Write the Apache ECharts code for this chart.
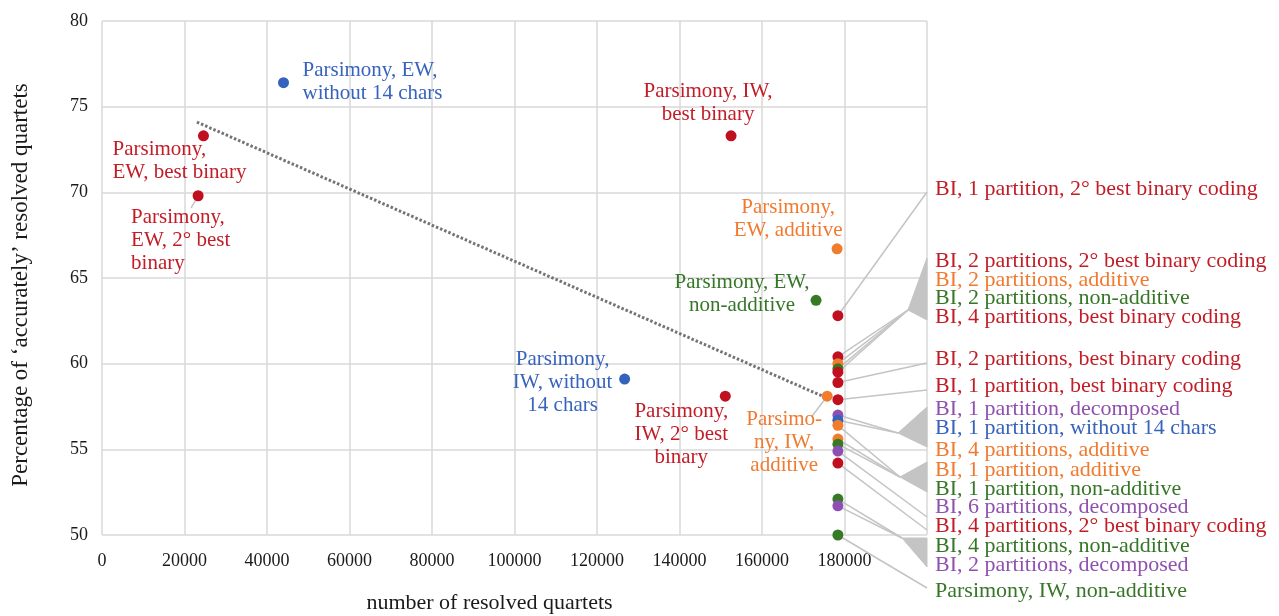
<!DOCTYPE html>
<html>
<head>
<meta charset="utf-8">
<script src="https://cdn.jsdelivr.net/npm/echarts@6/dist/echarts.min.js"></script>
<style>
  html, body { margin: 0; padding: 0; background: #fff; }
  #chart { width: 1279px; height: 616px; }
</style>
</head>
<body>
<div id="chart"></div>
<script>
// Methods compared (label text as drawn)
const labels = [
  'Parsimony, EW,\nwithout 14 chars',
  'Parsimony,\nEW, best binary',
  'Parsimony,\nEW, 2° best\nbinary',
  'Parsimony, IW,\nbest binary',
  'Parsimony,\nEW, additive',
  'Parsimony, EW,\nnon-additive',
  'Parsimony,\nIW, without\n14 chars',
  'Parsimony,\nIW, 2° best\nbinary',
  'Parsimo-\nny, IW,\nadditive',
  'BI, 1 partition, 2° best binary coding',
  'BI, 2 partitions, 2° best binary coding',
  'BI, 2 partitions, additive',
  'BI, 2 partitions, non-additive',
  'BI, 4 partitions, best binary coding',
  'BI, 2 partitions, best binary coding',
  'BI, 1 partition, best binary coding',
  'BI, 1 partition, decomposed',
  'BI, 1 partition, without 14 chars',
  'BI, 4 partitions, additive',
  'BI, 1 partition, additive',
  'BI, 1 partition, non-additive',
  'BI, 6 partitions, decomposed',
  'BI, 4 partitions, 2° best binary coding',
  'BI, 4 partitions, non-additive',
  'BI, 2 partitions, decomposed',
  'Parsimony, IW, non-additive'
];

// Number of resolved quartets
const quartets = [
  44000, 24600, 23300, 152500, 178200, 173100, 126700, 151100, 175800,
  178400, 178400, 178400, 178400, 178400, 178400, 178400, 178400,
  178400, 178400, 178400, 178400, 178400, 178400, 178400, 178400, 178400
];

// Percentage of 'accurately' resolved quartets
const accuracy = [
  76.4, 73.3, 69.8, 73.3, 66.7, 63.7, 59.1, 58.1, 58.1,
  62.8, 60.4, 60.0, 59.7, 59.5, 58.9, 57.9, 57.0,
  56.7, 56.4, 55.6, 55.3, 54.9, 54.2, 52.1, 51.7, 50.0
];

// Character coding of each analysis
const coding = [
  'without', 'binary', 'binary', 'binary', 'additive', 'non-additive', 'without', 'binary', 'additive',
  'binary', 'binary', 'additive', 'non-additive', 'binary', 'binary', 'binary', 'decomposed',
  'without', 'additive', 'additive', 'non-additive', 'decomposed', 'binary', 'non-additive', 'decomposed', 'non-additive'
];

// Linear trend (end points)
const trendX = [23000, 174700];
const trendY = [74.1, 58.1];

// Axis ticks
const xTicks = [0, 20000, 40000, 60000, 80000, 100000, 120000, 140000, 160000, 180000];
const yTicks = [50, 55, 60, 65, 70, 75, 80];

// ---- presentation ----
const markerColor = {
  'binary': '#c00f1e',
  'additive': '#f07c2c',
  'non-additive': '#367a26',
  'decomposed': '#8e4fb5',
  'without': '#3463bd'
};
const textColor = {
  'binary': '#c21d27',
  'additive': '#f07a30',
  'non-additive': '#357627',
  'decomposed': '#8f50b0',
  'without': '#3863bd'
};

const FONT = 'Liberation Serif';
const LEAD = '#c4c4c4';

// labels placed next to their point: offset of the text block centre from the point
const nearby = {
  0: { dx: 19, dy: -1, align: 'left' },
  1: { dx: -91, dy: 25, align: 'left' },
  2: { dx: -67, dy: 45, align: 'left', lead: [-7, 12] },
  3: { dx: -23, dy: -33, align: 'center' },
  4: { dx: -49, dy: -30, align: 'center' },
  5: { dx: -74, dy: -6, align: 'center' },
  6: { dx: -62, dy: 3, align: 'center' },
  7: { dx: -44, dy: 38, align: 'center' },
  8: { dx: -43, dy: 46, align: 'center', lead: [-16, 21] }
};

// labels listed in the right-hand column, with where their leader line ends
const COL_X = 935, EDGE_X = 927;
const column = {
  9:  { y: 189, to: [EDGE_X, 192] },
  10: { y: 261, to: [908, 310] },
  11: { y: 280, to: [908, 310] },
  12: { y: 298, to: [908, 310] },
  13: { y: 317, to: [908, 310] },
  14: { y: 359, to: [EDGE_X, 363] },
  15: { y: 386, to: [EDGE_X, 390] },
  16: { y: 409, to: [898, 433] },
  17: { y: 428, to: [898, 433] },
  18: { y: 450, to: [900, 477] },
  19: { y: 470, to: [900, 477] },
  20: { y: 489, to: [900, 477] },
  21: { y: 507, to: [EDGE_X, 517] },
  22: { y: 526, to: [EDGE_X, 530] },
  23: { y: 546, to: [902, 538] },
  24: { y: 565, to: [902, 538] },
  25: { y: 591, to: [EDGE_X, 588] }
};
// fanned ends of the grouped leader lines
const fans = [
  { tip: [908, 310], y0: 258, y1: 320 },
  { tip: [898, 433], y0: 407, y1: 447 },
  { tip: [900, 477], y0: 462, y1: 492 },
  { tip: [902, 538], y0: 538, y1: 567 }
];

const points = quartets.map((x, i) => ({
  value: [x, accuracy[i]],
  name: labels[i],
  itemStyle: { color: markerColor[coding[i]] },
  label: {
    color: textColor[coding[i]],
    fontSize: column[i] ? 22 : 21
  }
}));

// points that carry a leader line
const leaders = quartets
  .map((x, i) => [x, accuracy[i], i])
  .filter(d => column[d[2]] || (nearby[d[2]] && nearby[d[2]].lead));

const chart = echarts.init(document.getElementById('chart'), null, { renderer: 'canvas' });

chart.setOption({
  animation: false,
  backgroundColor: '#ffffff',
  textStyle: { fontFamily: FONT },
  grid: { left: 102, right: 352, top: 21, bottom: 81, containLabel: false, outerBoundsMode: 'none' },
  xAxis: {
    type: 'value',
    min: 0, max: 200000, interval: 20000,
    name: 'number of resolved quartets',
    nameLocation: 'middle',
    nameGap: 57,
    nameTextStyle: { fontFamily: FONT, fontSize: 22, color: '#1a1a1a', padding: [0, 50, 0, 0] },
    axisLine: { show: false },
    axisTick: { show: false },
    axisLabel: {
      fontFamily: FONT, fontSize: 18, color: '#1a1a1a', margin: 17,
      formatter: v => (xTicks.indexOf(v) >= 0 ? String(v) : '')
    },
    splitLine: { show: true, lineStyle: { color: '#d9d9d9', width: 1.5 } }
  },
  yAxis: {
    type: 'value',
    min: yTicks[0], max: yTicks[yTicks.length - 1], interval: 5,
    name: 'Percentage of ‘accurately’ resolved quartets',
    nameLocation: 'middle',
    nameGap: 70,
    nameTextStyle: { fontFamily: FONT, fontSize: 23, color: '#1a1a1a', padding: [0, 14, 0, 0] },
    axisLine: { show: false },
    axisTick: { show: false },
    axisLabel: { fontFamily: FONT, fontSize: 18, color: '#1a1a1a', margin: 14 },
    splitLine: { show: true, lineStyle: { color: '#d9d9d9', width: 1.5 } }
  },
  graphic: fans.map(f => ({
    type: 'polygon',
    z: 1,
    shape: { points: [f.tip, [EDGE_X, f.y0], [EDGE_X, f.y1]] },
    style: { fill: LEAD, stroke: LEAD, lineWidth: 1 },
    silent: true
  })),
  series: [
    {
      type: 'line',
      data: trendX.map((x, i) => [x, trendY[i]]),
      symbol: 'none',
      lineStyle: { color: '#747474', width: 3, type: [2.5, 2] },
      z: 2,
      silent: true
    },
    {
      // leader lines from each point to its label
      type: 'custom',
      data: leaders,
      encode: { x: 0, y: 1 },
      z: 2,
      silent: true,
      renderItem: function (params, api) {
        const i = api.value(2);
        const p = api.coord([api.value(0), api.value(1)]);
        let end;
        if (column[i]) {
          end = column[i].to;
        } else {
          end = [p[0] + nearby[i].lead[0], p[1] + nearby[i].lead[1]];
        }
        return {
          type: 'polyline',
          shape: { points: [p, end] },
          style: { stroke: LEAD, lineWidth: 1.5, fill: null }
        };
      }
    },
    {
      type: 'scatter',
      data: points,
      symbolSize: 11,
      itemStyle: { opacity: 1 },
      z: 3,
      label: {
        show: true,
        formatter: '{b}',
        fontFamily: FONT,
        fontSize: 21,
        lineHeight: 23
      },
      labelLayout: function (p) {
        const i = p.dataIndex;
        const cx = p.rect.x + p.rect.width / 2;
        const cy = p.rect.y + p.rect.height / 2;
        const c = column[i];
        if (c) {
          return { x: COL_X, y: c.y, align: 'left', verticalAlign: 'middle' };
        }
        const n = nearby[i];
        return { x: cx + n.dx, y: cy + n.dy, align: n.align, verticalAlign: 'middle' };
      }
    }
  ]
});
</script>
</body>
</html>
